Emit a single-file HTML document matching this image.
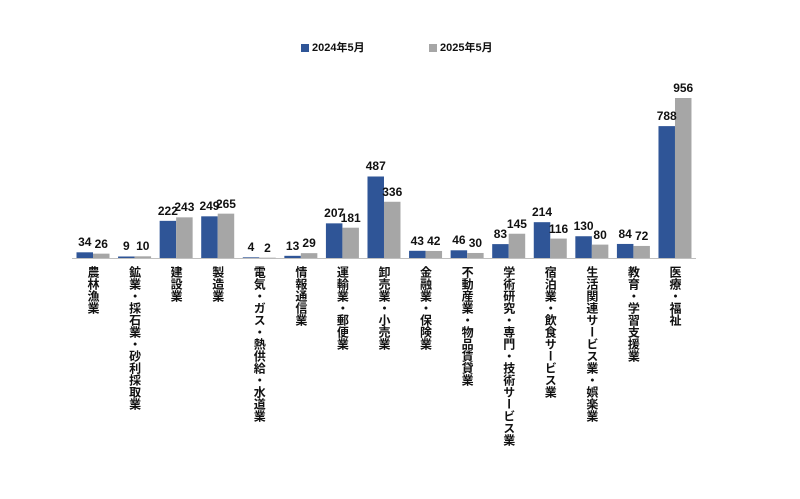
<!DOCTYPE html>
<html><head><meta charset="utf-8"><style>
body{margin:0;background:#fff;width:800px;height:499px;overflow:hidden;position:relative;font-family:"Liberation Sans","Noto Sans CJK JP",sans-serif}
.lbl{position:absolute;writing-mode:vertical-rl;font-size:12px;font-weight:bold;color:#111;line-height:12px;top:266px}
.val{position:absolute;font-size:12px;font-weight:bold;color:#111;width:40px;text-align:center}
.leg{position:absolute;top:39px;font-size:11px;font-weight:bold;color:#111}
.sw{display:inline-block;width:8px;height:8px;margin-right:3px;vertical-align:-1px}
</style></head><body>
<div class="leg" style="left:301px"><span class="sw" style="background:#2f5597"></span>2024年5月</div>
<div class="leg" style="left:429px"><span class="sw" style="background:#a6a6a6"></span>2025年5月</div>
<svg id="chart" width="800" height="499" style="position:absolute;left:0;top:0"></svg>
<div id="labels"></div>
<script>
const categories=["農林漁業","鉱業・採石業・砂利採取業","建設業","製造業","電気・ガス・熱供給・水道業","情報通信業","運輸業・郵便業","卸売業・小売業","金融業・保険業","不動産業・物品賃貸業","学術研究・専門・技術サービス業","宿泊業・飲食サービス業","生活関連サービス業・娯楽業","教育・学習支援業","医療・福祉"];
const series2024=[34,9,222,249,4,13,207,487,43,46,83,214,130,84,788];
const series2025=[26,10,243,265,2,29,181,336,42,30,145,116,80,72,956];
const base=258, scale=160/956, x0=93, step=41.57, bw=16.5;
const yPos=v=>base-v*scale;
const xC=i=>x0+i*step;
const svg=document.getElementById('chart');
const NS='http://www.w3.org/2000/svg';
const axis=document.createElementNS(NS,'line');
axis.setAttribute('x1',72);axis.setAttribute('x2',696);axis.setAttribute('y1',base+0.5);axis.setAttribute('y2',base+0.5);
axis.setAttribute('stroke','#bfbfbf');


svg.appendChild(axis);
const lab=document.getElementById('labels');
function bar(i,v,color,dx,name){
  const r=document.createElementNS(NS,'rect');
  r.setAttribute('x',xC(i)+dx);r.setAttribute('y',yPos(v));r.setAttribute('width',bw);r.setAttribute('height',Math.max(base-yPos(v),0.5));
  r.setAttribute('fill',color);
  
  
  svg.appendChild(r);
  const t=document.createElement('div');
  t.className='val';t.textContent=v;
  t.style.left=(xC(i)+dx+bw/2-20)+'px';t.style.top=(yPos(v)-17)+'px';
  
  
  lab.appendChild(t);
}
categories.forEach((c,i)=>{
  bar(i,series2024[i],'#2f5597',-bw,'bar-2024');
  bar(i,series2025[i],'#a6a6a6',0,'bar-2025');
  const l=document.createElement('div');
  l.className='lbl';l.textContent=c;l.style.left=(xC(i)-6)+'px';
  
  
  lab.appendChild(l);
});
</script>
</body></html>
